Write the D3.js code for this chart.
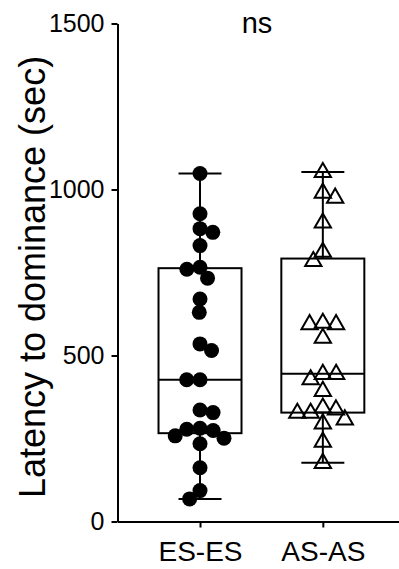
<!DOCTYPE html>
<html><head><meta charset="utf-8">
<script src="https://cdn.jsdelivr.net/npm/d3@7"></script>
<style>body{margin:0;background:#fff} svg{display:block}</style>
</head><body>
<svg id="chart" width="399" height="569"></svg>
<script>
// ---- data ----
const categories = ["ES-ES", "AS-AS"];
const esValues = [1048, 927, 882, 871, 831, 766, 760, 733, 670, 630, 535, 515, 427, 427,
                  336, 328, 281, 278, 274, 258, 251, 234, 162, 93, 68];
const asValues = [1053, 991, 976, 901, 813, 785, 599, 595, 595, 554, 445, 445, 429, 394,
                  344, 338, 328, 328, 308, 296, 241, 177];
const yTicks = [0, 500, 1000, 1500];
const yLabel = "Latency to dominance (sec)";
const sigLabel = "ns";

// ---- layout ----
const W = 399, H = 569;
const FONT = "'Liberation Sans', Arial, Helvetica, sans-serif";
const svg = d3.select("#chart");

const y = d3.scaleLinear().domain([0, 1500]).range([521.5, 23.5]);
const x = d3.scalePoint().domain(categories).range([117.5, 399]).padding(0.646).align(0.52);

const groups = [
  {name: categories[0], values: esValues, shape: "circle"},
  {name: categories[1], values: asValues, shape: "triangle"}
];

function quart(sorted, p) {
  const n = sorted.length, h = (n + 1) * p, lo = Math.floor(h);
  if (lo < 1) return sorted[0];
  if (lo >= n) return sorted[n - 1];
  return sorted[lo - 1] + (h - lo) * (sorted[lo] - sorted[lo - 1]);
}

// greedy beeswarm: place each point as close to the centre line as possible
function swarm(values, spacing) {
  const pts = values.map(v => ({v, py: y(v)})).sort((a, b) => a.py - b.py);
  const placed = [];
  let flip = 1;
  for (const p of pts) {
    const blocks = [];
    for (const q of placed) {
      const dy = Math.abs(p.py - q.py);
      if (dy < spacing) {
        const w = Math.sqrt(spacing * spacing - dy * dy);
        blocks.push([q.dx - w, q.dx + w]);
      }
    }
    const cands = [0];
    blocks.forEach(b => { cands.push(b[0], b[1]); });
    const ok = c => blocks.every(b => c <= b[0] + 1e-6 || c >= b[1] - 1e-6);
    let best = null;
    cands.filter(ok).forEach(c => {
      if (best === null || Math.abs(c) < Math.abs(best) - 1e-6 ||
          (Math.abs(Math.abs(c) - Math.abs(best)) < 1e-6 && Math.sign(c) === flip)) best = c;
    });
    if (best !== 0) flip = -Math.sign(best);
    p.dx = best;
    placed.push(p);
  }
  return placed;
}

// ---- points ----
groups.forEach(g => {
  const cx = x(g.name);
  const pts = swarm(g.values, 13.3);
  const gp = svg.append("g");
  if (g.shape === "circle") {
    gp.selectAll("circle").data(pts).join("circle")
      .attr("cx", d => cx + d.dx).attr("cy", d => d.py).attr("r", 7.5)
      .attr("fill", "#000");
  } else {
    const sym = d3.symbol().type(d3.symbolTriangle).size(115);
    gp.selectAll("path").data(pts).join("path")
      .attr("d", sym)
      .attr("transform", d => `translate(${cx + d.dx},${d.py + 0.5})`)
      .attr("fill", "none").attr("stroke", "#000").attr("stroke-width", 2);
  }
});

// ---- box & whiskers (min to max) ----
const boxHalf = 41.5, capHalf = 21.5;
groups.forEach(g => {
  const s = g.values.slice().sort(d3.ascending);
  const q1 = quart(s, 0.25), med = quart(s, 0.5), q3 = quart(s, 0.75);
  const mn = s[0], mx = s[s.length - 1];
  const cx = x(g.name);
  const gb = svg.append("g").attr("stroke", "#000").attr("stroke-width", 2).attr("fill", "none");
  gb.append("line").attr("x1", cx).attr("x2", cx).attr("y1", y(mx)).attr("y2", y(q3));
  gb.append("line").attr("x1", cx).attr("x2", cx).attr("y1", y(q1)).attr("y2", y(mn));
  gb.append("line").attr("x1", cx - capHalf).attr("x2", cx + capHalf).attr("y1", y(mx)).attr("y2", y(mx));
  gb.append("line").attr("x1", cx - capHalf).attr("x2", cx + capHalf).attr("y1", y(mn)).attr("y2", y(mn));
  gb.append("rect").attr("x", cx - boxHalf).attr("y", y(q3))
    .attr("width", 2 * boxHalf).attr("height", y(q1) - y(q3));
  gb.append("line").attr("x1", cx - boxHalf).attr("x2", cx + boxHalf).attr("y1", y(med)).attr("y2", y(med));
});

// ---- axes ----
const yAxis = svg.append("g").attr("transform", "translate(117.5,0)")
  .call(d3.axisLeft(y).tickValues(yTicks).tickFormat(d3.format("d")).tickSize(6).tickSizeOuter(0).tickPadding(7));
const xAxis = svg.append("g").attr("transform", `translate(0,${y(0)})`)
  .call(d3.axisBottom(x).tickSize(6).tickSizeOuter(0).tickPadding(14));
[yAxis, xAxis].forEach(a => {
  a.select(".domain").attr("stroke", "#000").attr("stroke-width", 2);
  a.selectAll(".tick line").attr("stroke", "#000").attr("stroke-width", 2);
  a.selectAll("text").attr("fill", "#000").style("font-family", FONT);
});
yAxis.selectAll("text").style("font-size", "25px");
xAxis.selectAll("text").style("font-size", "28px");

// ---- labels ----
svg.append("text")
  .attr("transform", "translate(45,277) rotate(-90)")
  .attr("text-anchor", "middle")
  .style("font-family", FONT).style("font-size", "36px").attr("fill", "#000")
  .text(yLabel);

svg.append("text")
  .attr("x", 257).attr("y", 33).attr("text-anchor", "middle")
  .style("font-family", FONT).style("font-size", "29px").attr("fill", "#000")
  .text(sigLabel);
</script>
</body></html>
